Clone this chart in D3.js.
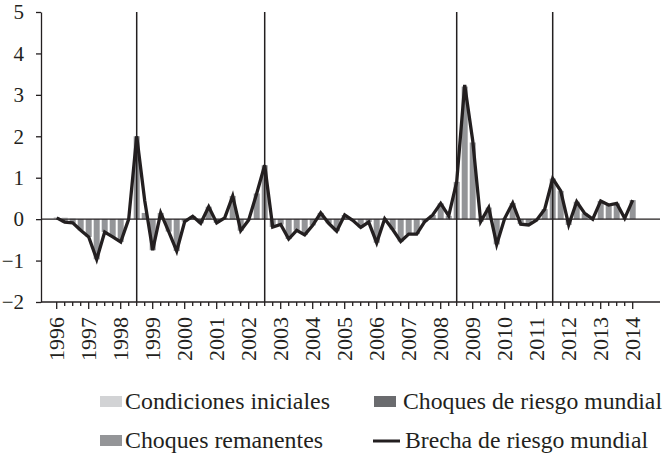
<!DOCTYPE html>
<html><head><meta charset="utf-8">
<script src="https://cdn.jsdelivr.net/npm/d3@7/dist/d3.min.js"></script>
<style>body{margin:0;background:#fff}svg{display:block}
.ser{font-family:"Liberation Serif", serif;}
.leg{font-family:"Liberation Serif", serif;}
</style>
</head><body>
<svg id="chart" width="666" height="462"></svg>
<script>
// ---------- DATA ----------
const years = ["1996","1997","1998","1999","2000","2001","2002","2003","2004","2005",
  "2006","2007","2008","2009","2010","2011","2012","2013","2014"];
const quarterNames = ["T1","T2","T3","T4"];
// quarterly categories 1996T1 … 2014T1
const quarters = [];
years.forEach(y => quarterNames.forEach(q => { if (!(y === "2014" && q !== "T1")) quarters.push(y + q); }));

// Brecha de riesgo mundial (line)
const brecha = [
  0.03,-0.07,-0.09,-0.27, -0.43,-0.97,-0.31,-0.43, -0.55,0.00,2.00,0.45,
  -0.75,0.15,-0.30,-0.77, -0.06,0.07,-0.10,0.30, -0.09,0.03,0.56,-0.28,
  -0.02,0.62,1.30,-0.19, -0.13,-0.48,-0.27,-0.38, -0.15,0.15,-0.10,-0.29,
  0.10,-0.03,-0.20,-0.07, -0.57,0.01,-0.25,-0.54, -0.36,-0.36,-0.06,0.10,
  0.38,0.08,0.90,3.24, 1.90,-0.06,0.28,-0.61, 0.02,0.39,-0.12,-0.14,
  -0.02,0.24,0.98,0.68, -0.14,0.42,0.14,0.00, 0.44,0.34,0.38,0.02, 0.46
];
// Choques remanentes (medium grey bars)
const remanentes = [
  0.00,-0.08,-0.10,-0.27, -0.43,-0.97,-0.31,-0.43, -0.55,0.00,2.00,0.15,
  -0.75,0.15,-0.30,-0.77, -0.06,0.07,-0.10,0.30, -0.09,0.03,0.56,-0.28,
  -0.02,0.62,1.30,-0.19, -0.13,-0.48,-0.27,-0.38, -0.15,0.15,-0.10,-0.29,
  0.10,-0.03,-0.20,-0.07, -0.57,0.01,-0.25,-0.54, -0.36,-0.36,-0.06,0.10,
  0.38,0.08,0.90,3.20, 1.85,-0.06,0.28,-0.61, 0.02,0.39,-0.12,-0.14,
  -0.02,0.24,0.98,0.68, -0.14,0.42,0.14,0.00, 0.44,0.34,0.38,0.02, 0.46
];
// Condiciones iniciales (light grey bars)
const iniciales = [
  0.05,0.04,0.02,0,0,0,0,0,0,0,0,0,0,0,0,0,0,0,0,0,0,0,0,0,0,0,0,0,0,0,0,0,0,0,0,0,
  0,0,0,0,0,0,0,0,0,0,0,0,0,0,0,0,0,0,0,0,0,0,0,0,0,0,0,0,0,0,0,0,0,0,0,0,0
];
// Choques de riesgo mundial (dark grey bars) – not distinguishable in the figure
const mundial = [
  0,0,0,0,0,0,0,0,0,0,0,0,0,0,0,0,0,0,0,0,0,0,0,0,0,0,0,0,0,0,0,0,0,0,0,0,
  0,0,0,0,0,0,0,0,0,0,0,0,0,0,0,0,0,0,0,0,0,0,0,0,0,0,0,0,0,0,0,0,0,0,0,0,0
];
const shockQuarters = ["1998T3","2002T3","2008T3","2011T3"];
const yTickValues = [-2,-1,0,1,2,3,4,5];
const yTickLabels = ["\u22122","\u22121","0","1","2","3","4","5"];
const seriesNames = ["Condiciones iniciales","Choques de riesgo mundial","Choques remanentes","Brecha de riesgo mundial"];

// ---------- LAYOUT ----------
const svg = d3.select("#chart");
const axisLeftX = 41, axisRightX = 660, plotTop = 12, plotBottom = 302;
const colors = {ini:"#d2d3d5", mun:"#6a6b6e", rem:"#949598", line:"#231f20"};

const x = d3.scaleBand().domain(quarters).range([52.7, 636.7]).paddingInner(0.25).paddingOuter(0.125);
const y = d3.scaleLinear().domain([-2,5]).range([plotBottom, plotTop]);
const cx = q => x(q) + x.bandwidth()/2;

const table = quarters.map((q,i) => ({q, ini: iniciales[i], mun: mundial[i], rem: remanentes[i]}));
const stack = d3.stack().keys(["ini","mun","rem"]).offset(d3.stackOffsetDiverging);
const layers = stack(table);

// bars
svg.append("g").selectAll("g").data(layers).join("g")
  .attr("fill", d => colors[d.key])
  .selectAll("rect").data(d => d).join("rect")
  .attr("x", d => x(d.data.q))
  .attr("width", x.bandwidth())
  .attr("y", d => y(Math.max(d[0], d[1])))
  .attr("height", d => Math.abs(y(d[0]) - y(d[1])));

// zero line
svg.append("line").attr("x1", axisLeftX).attr("x2", axisRightX)
  .attr("y1", y(0)).attr("y2", y(0)).attr("stroke", "#231f20").attr("stroke-width", 1.3);

// vertical shock lines
svg.append("g").selectAll("line").data(shockQuarters).join("line")
  .attr("x1", d => cx(d)).attr("x2", d => cx(d))
  .attr("y1", y(5)).attr("y2", y(-2))
  .attr("stroke", "#231f20").attr("stroke-width", 1.5);

// line
svg.append("path").datum(quarters.map((q,i) => [cx(q), y(brecha[i])]))
  .attr("fill","none").attr("stroke", colors.line).attr("stroke-width", 3.3)
  .attr("stroke-linejoin","miter")
  .attr("d", d3.line());

// y axis
const yAxis = svg.append("g").attr("transform", `translate(${axisLeftX},0)`)
  .call(d3.axisLeft(y).tickValues(yTickValues).tickSize(5).tickSizeOuter(0)
    .tickFormat((d,i) => yTickLabels[i]));
yAxis.attr("font-family", null).attr("font-size", null);
yAxis.select(".domain").attr("stroke","#231f20").attr("stroke-width",1.3);
yAxis.selectAll(".tick line").attr("stroke","#231f20").attr("stroke-width",1.3);
yAxis.selectAll(".tick text").attr("x", -17).attr("class","ser")
  .style("font-size", "21px").attr("fill","#231f20");

// x axis
const xAxis = svg.append("g").attr("transform", `translate(0,${plotBottom})`)
  .call(d3.axisBottom(x).tickSize(4).tickSizeOuter(0)
    .tickFormat(d => d.endsWith("T1") ? d.slice(0,4) : ""));
xAxis.attr("font-family", null).attr("font-size", null);
xAxis.select(".domain").remove();
xAxis.append("line").attr("x1", axisLeftX).attr("x2", axisRightX).attr("y1",0).attr("y2",0)
  .attr("stroke","#231f20").attr("stroke-width",1.3);
xAxis.selectAll(".tick line").attr("stroke","#231f20").attr("stroke-width",1.3)
  .attr("y2", d => d.endsWith("T1") ? 7 : 4);
xAxis.selectAll(".tick text")
  .attr("transform","rotate(-90)")
  .attr("x", -15).attr("y", 0).attr("dy","0.34em")
  .attr("text-anchor","end").attr("class","ser")
  .style("font-size", "21px").attr("fill","#231f20")
  .attr("textLength", 44).attr("lengthAdjust","spacingAndGlyphs");

// legend
const leg = svg.append("g").attr("class","leg").style("font-size", "23px").attr("fill","#231f20");
const legendItems = [
  {name: seriesNames[0], type:"rect", color: colors.ini, sx: 100, tx: 125, y: 402, w: 205},
  {name: seriesNames[1], type:"rect", color: colors.mun, sx: 374, tx: 403, y: 402, w: 259},
  {name: seriesNames[2], type:"rect", color: colors.rem, sx: 100, tx: 125, y: 441, w: 198},
  {name: seriesNames[3], type:"line", color: colors.line, sx: 374, tx: 405, y: 441, w: 243}
];
legendItems.forEach(it => {
  if (it.type === "rect") {
    leg.append("rect").attr("x", it.sx).attr("y", it.y - 6).attr("width", 22).attr("height", 11).attr("fill", it.color);
  } else {
    leg.append("line").attr("x1", it.sx - 1).attr("x2", it.sx + 26).attr("y1", it.y).attr("y2", it.y)
      .attr("stroke", it.color).attr("stroke-width", 3);
  }
  leg.append("text").attr("x", it.tx).attr("y", it.y + 7).text(it.name)
    .attr("textLength", it.w).attr("lengthAdjust","spacingAndGlyphs");
});
</script>
</body></html>
